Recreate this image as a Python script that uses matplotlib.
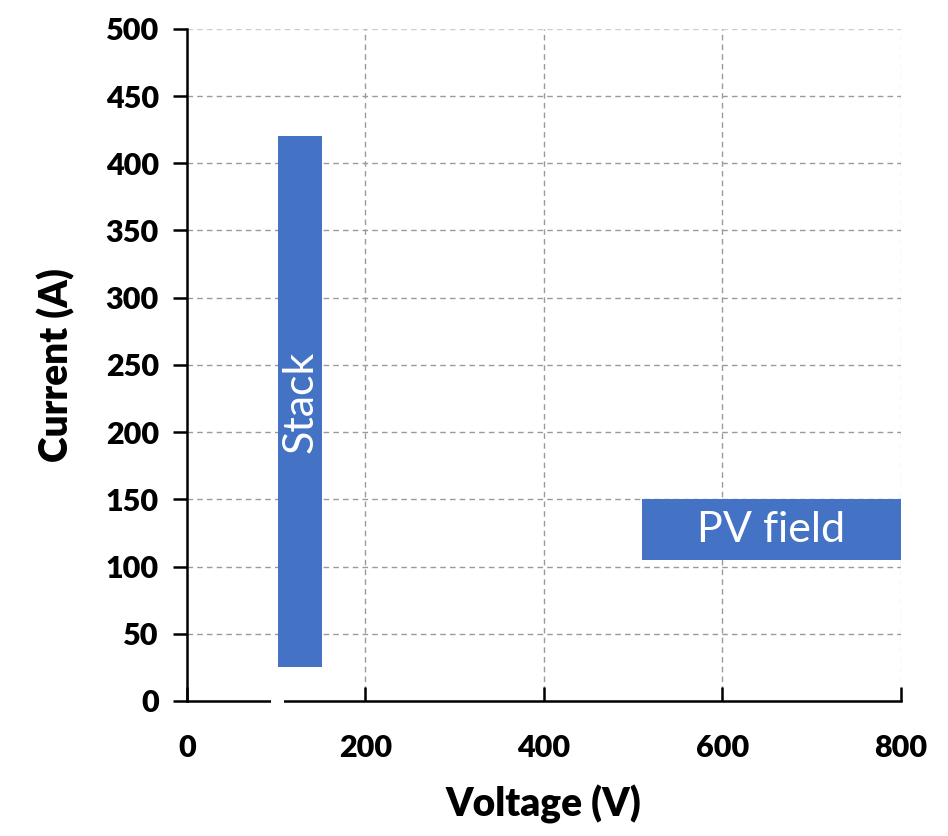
import matplotlib.pyplot as plt
from matplotlib.patches import Rectangle

# Data: operating windows (voltage range, current range)
labels = ['Stack', 'PV field']
v_min = [102, 510]
v_max = [152, 800]
i_min = [25, 105]
i_max = [420, 150]
text_rot = [90, 0]

x_ticks = [0, 200, 400, 600, 800]
y_ticks = list(range(0, 501, 50))

COLOR_BOX = '#4472C4'
FONT = ['Lato', 'DejaVu Sans']

plt.rcParams['font.family'] = FONT

fig = plt.figure(figsize=(9.48, 8.36), dpi=100)
ax = fig.add_axes([0.197, 0.1615, 0.753, 0.804])

ax.set_xlim(0, 800)
ax.set_ylim(0, 500)

# Grid
for y in y_ticks[1:]:
    ax.axhline(y, color='#9a9a9a', linestyle=(0, (4, 3)), linewidth=1, zorder=0,
               alpha=0.5 if y == 500 else 1)
for x in x_ticks[1:]:
    ax.axvline(x, color='#9a9a9a', linestyle=(0, (4, 3)), linewidth=1, zorder=0,
               alpha=0.4 if x == 800 else 1)

# Boxes
for lab, x0, x1, y0, y1, rot in zip(labels, v_min, v_max, i_min, i_max, text_rot):
    ax.add_patch(Rectangle((x0, y0), x1 - x0, y1 - y0, facecolor=COLOR_BOX,
                           edgecolor='none', zorder=2))
    ax.text((x0 + x1) / 2, (y0 + y1) / 2, lab, color='white', fontsize=31,
            rotation=rot, ha='center', va='center', zorder=3)

# Spines
for s in ['top', 'right']:
    ax.spines[s].set_visible(False)
for s in ['left', 'bottom']:
    ax.spines[s].set_linewidth(1.8)

# small gap in the bottom axis line, as in the original
ax.plot([94, 109], [0, 0], color='white', linewidth=4, zorder=5, clip_on=False,
        solid_capstyle='butt')

ax.set_xticks(x_ticks)
ax.set_yticks(y_ticks)
ax.tick_params(axis='y', direction='out', length=10, width=1.8, labelsize=22, pad=10)
ax.tick_params(axis='x', direction='in', length=10, width=1.8, labelsize=22, pad=24)
for lbl in ax.get_xticklabels() + ax.get_yticklabels():
    lbl.set_fontweight('heavy')

ax.set_xlabel('Voltage (V)', fontsize=28, fontweight='heavy', labelpad=16)
ax.set_ylabel('Current (A)', fontsize=28, fontweight='heavy', labelpad=22)

plt.savefig('out.png', dpi=100)
